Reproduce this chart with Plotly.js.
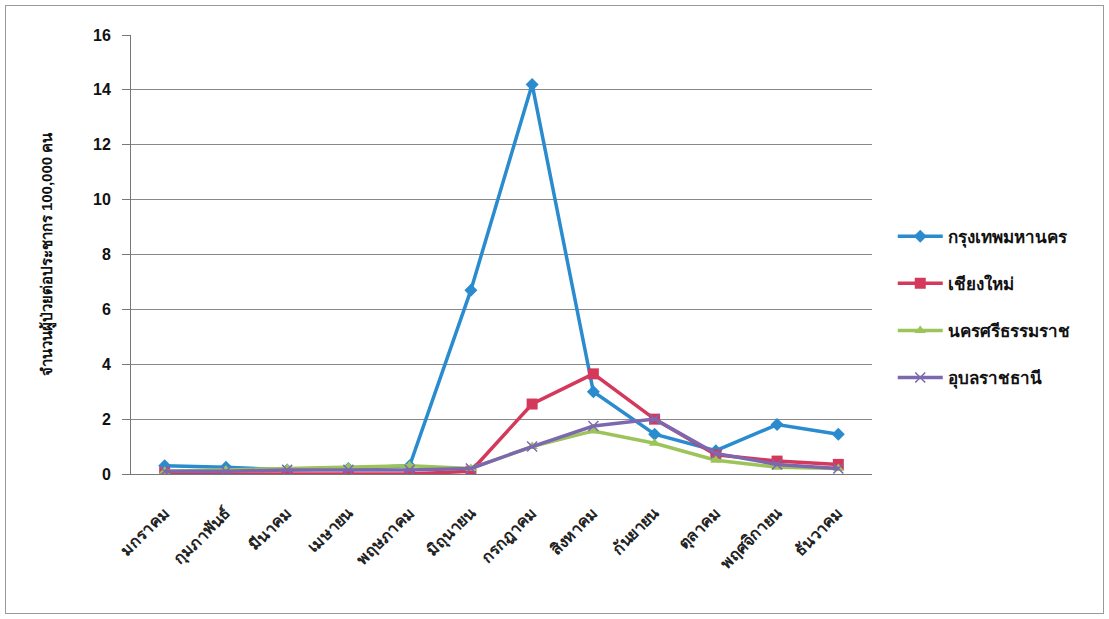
<!DOCTYPE html>
<html>
<head>
<meta charset="utf-8">
<script src="https://cdn.plot.ly/plotly-3.0.1.min.js"></script>
<style>
html,body{margin:0;padding:0;background:#fff;}
#frame{position:absolute;left:5px;top:5px;width:1099px;height:609px;border:1px solid #9a9a9a;box-sizing:border-box;}
#chart{position:absolute;left:0;top:0;width:1109px;height:619px;}
</style>
</head>
<body>
<div id="chart"></div>
<div id="frame"></div>
<script>
const months = ["มกราคม","กุมภาพันธ์","มีนาคม","เมษายน","พฤษภาคม","มิถุนายน","กรกฎาคม","สิงหาคม","กันยายน","ตุลาคม","พฤศจิกายน","ธันวาคม"];
const seriesNames = ["กรุงเทพมหานคร","เชียงใหม่","นครศรีธรรมราช","อุบลราชธานี"];
const bangkok = [0.3,0.25,0.15,0.2,0.3,6.7,14.2,3.0,1.45,0.85,1.8,1.45];
const chiangMai = [0.05,0,0,0,0,0.1,2.55,3.65,2.0,0.7,0.47,0.35];
const nakhonSi = [0.1,0.15,0.2,0.25,0.3,0.2,1.0,1.57,1.12,0.5,0.25,0.2];
const ubon = [0.1,0.1,0.15,0.15,0.15,0.2,1.0,1.75,2.0,0.75,0.35,0.2];
const yTitle = "จำนวนผู้ป่วยต่อประชากร 100,000 คน";

const colors = ["#2a8ccf","#d4385a","#9cc45a","#7d68b0"];
const symbols = ["diamond","square","triangle-up","x-thin-open"];
const data = [bangkok, chiangMai, nakhonSi, ubon];
const font = "Liberation Sans, Arial, sans-serif";

const traces = data.map((y,i)=>({
  x: months, y: y, name: seriesNames[i], type:"scatter", mode:"lines+markers",
  legendgroup: "g"+i,
  line:{color:colors[i], width:3.5},
  marker:{symbol:symbols[i], size: i===1?11:10, color:colors[i],
          line:{color:colors[i], width: i===3?1.5:0}}
}));

const layout = {
  width:1109, height:619,
  margin:{l:131, r:237, t:35, b:145},
  paper_bgcolor:"#fff", plot_bgcolor:"#fff",
  showlegend:true,
  legend:{x:1.028, y:0.38, yanchor:"middle", xanchor:"left", traceorder:"grouped",
          font:{family:font, size:17, color:"#111", weight:"bold"}, tracegroupgap:22,
          itemwidth:45, bgcolor:"rgba(0,0,0,0)"},
  xaxis:{type:"category", tickangle:-45, showgrid:false, showline:true,
         linecolor:"#777", linewidth:1, ticks:"", zeroline:false, ticklabelstandoff:22,
         tickfont:{family:font, size:16, color:"#222", weight:"bold"}, range:[-0.55,11.55]},
  yaxis:{range:[0,16], dtick:2, showgrid:true, gridcolor:"#888", gridwidth:1,
         showline:true, linecolor:"#777", linewidth:1, ticks:"outside", ticklen:8,
         tickcolor:"#777", zeroline:false, ticklabelstandoff:8,
         tickfont:{family:font, size:16, color:"#111", weight:"bold"},
         title:{text:yTitle, font:{family:font, size:15, color:"#111", weight:"bold"}, standoff:36}}
};
Plotly.newPlot("chart", traces, layout, {displayModeBar:false, staticPlot:true});
</script>
</body>
</html>
